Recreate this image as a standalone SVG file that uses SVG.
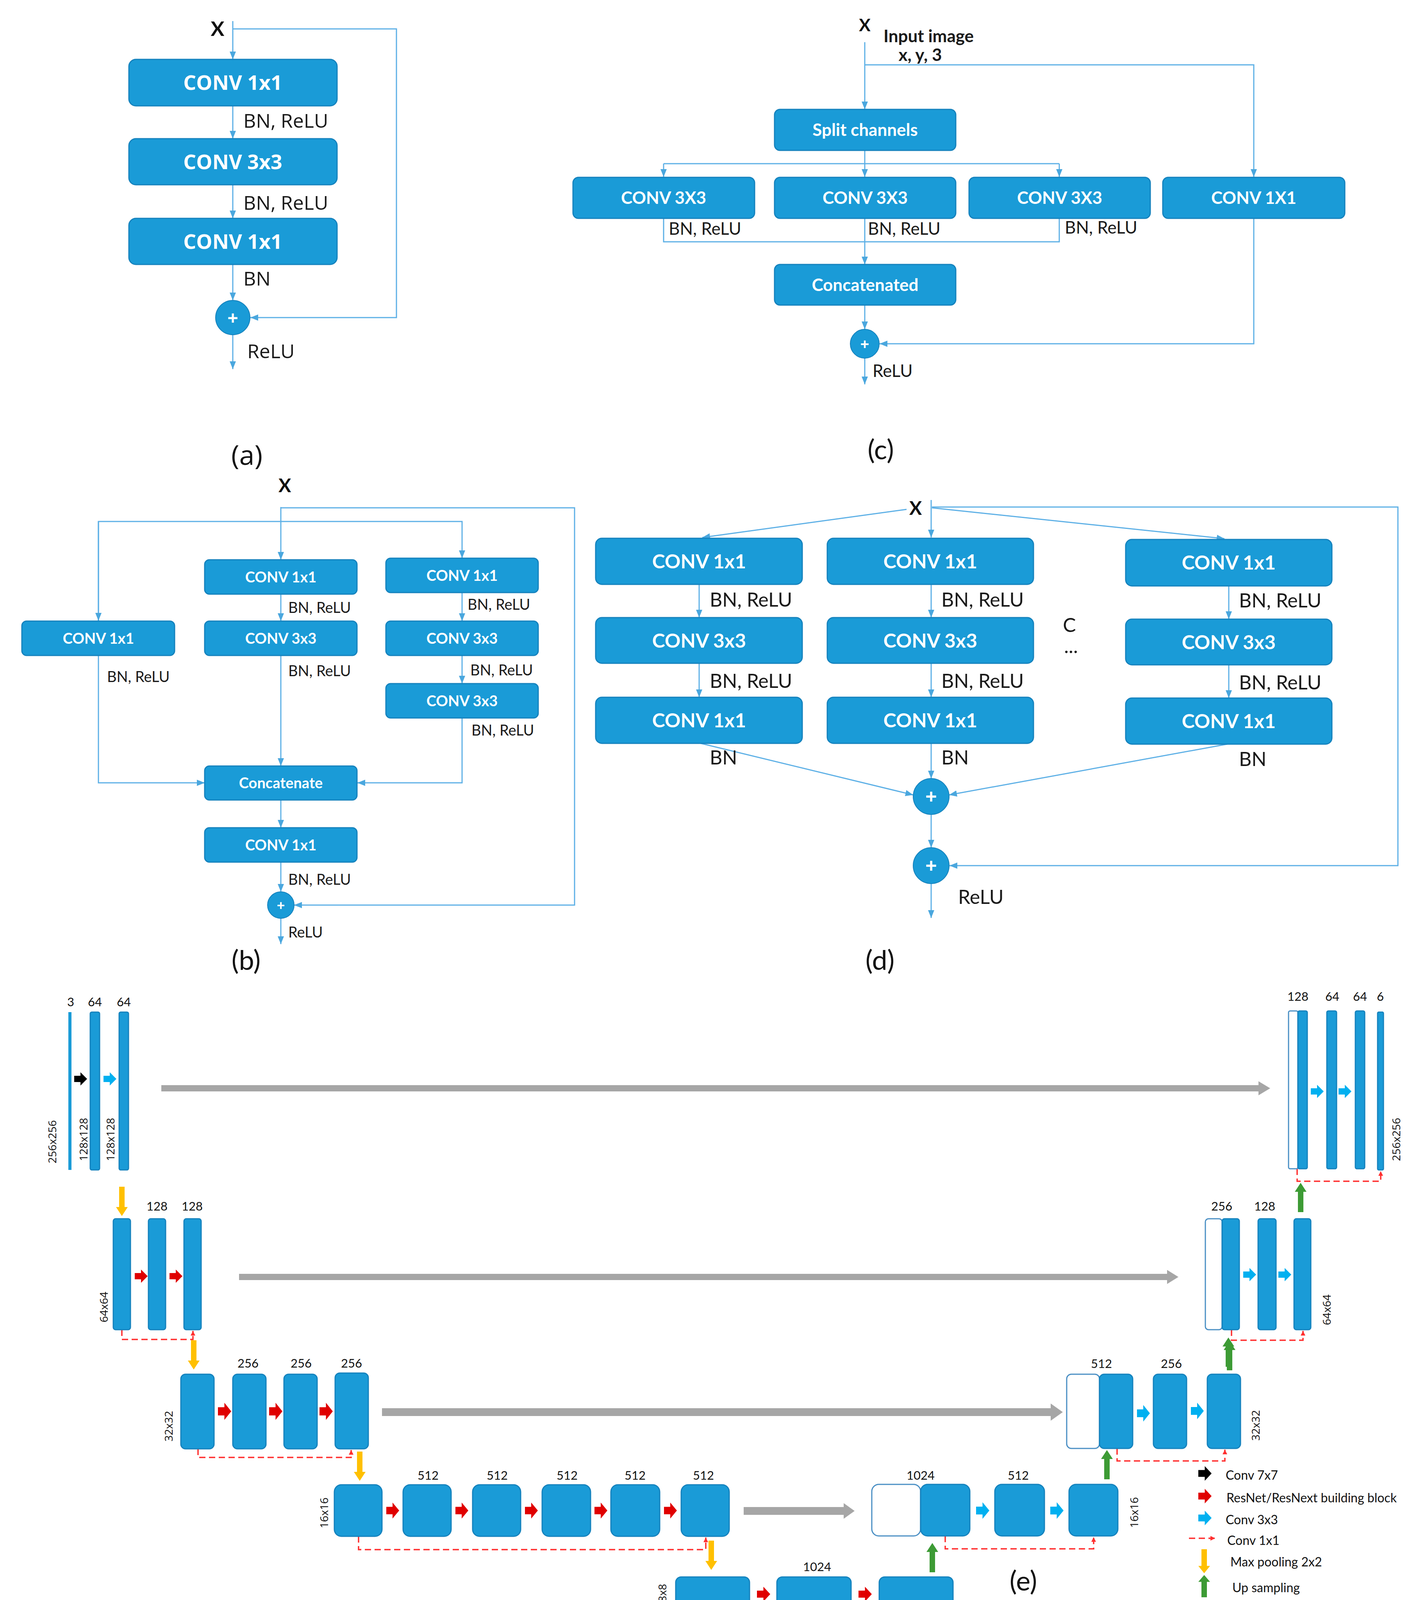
<svg xmlns="http://www.w3.org/2000/svg" xmlns:xlink="http://www.w3.org/1999/xlink" width="3633" height="4359" viewBox="0 0 3633 4359">
<style>
.bx{fill:#1a9bd7;stroke:#1582bd;stroke-width:3}
.wb{fill:#ffffff;stroke:#4a8fc4;stroke-width:3}
.cn{fill:none;stroke:#5db0e6;stroke-width:3}
.rd{fill:none;stroke:#ff2f2f;stroke-width:3.5;stroke-dasharray:16 9}
.ta{font-family:"Open Sans","DejaVu Sans",sans-serif;font-weight:700;font-size:52px;fill:#fff;text-anchor:middle}
.la{font-family:"Open Sans","DejaVu Sans",sans-serif;font-size:50px;fill:#1a1a1a}
.tb{font-family:Lato,"Liberation Sans",sans-serif;font-weight:700;font-size:38px;fill:#fff;text-anchor:middle}
.lb{font-family:Lato,"Liberation Sans",sans-serif;font-size:38px;fill:#1a1a1a}
.tc{font-family:Lato,"Liberation Sans",sans-serif;font-weight:700;font-size:44px;fill:#fff;text-anchor:middle}
.lc{font-family:Lato,"Liberation Sans",sans-serif;font-size:44px;fill:#1a1a1a}
.td{font-family:Lato,"Liberation Sans",sans-serif;font-weight:700;font-size:50px;fill:#fff;text-anchor:middle}
.ld{font-family:Lato,"Liberation Sans",sans-serif;font-size:50px;fill:#1a1a1a}
.xx{font-family:Lato,"Liberation Sans",sans-serif;font-weight:700;fill:#111;text-anchor:middle}
.pl{font-family:"Open Sans","DejaVu Sans",sans-serif;font-weight:700;fill:#fff;text-anchor:middle}
.cap{font-family:Lato,"Liberation Sans",sans-serif;font-size:70px;fill:#111;text-anchor:middle}
.ne{font-family:Lato,"Liberation Sans",sans-serif;font-size:31px;fill:#111;text-anchor:middle}
.re{font-family:"Open Sans","DejaVu Sans",sans-serif;font-size:28px;fill:#111;text-anchor:middle}
.lg{font-family:Lato,"Liberation Sans",sans-serif;font-size:32px;fill:#111}
</style>
<defs>
<marker id="ah" markerUnits="userSpaceOnUse" markerWidth="22" markerHeight="20" refX="20" refY="10" orient="auto"><path d="M0,2 L20,10 L0,18 z" fill="#4aa7de"/></marker>
<marker id="rh" markerUnits="userSpaceOnUse" markerWidth="14" markerHeight="14" refX="12" refY="7" orient="auto"><path d="M0,1 L12,7 L0,13 z" fill="#ff2f2f"/></marker>
<path id="ba" d="M0,-8 H16 V-17 L33,0 L16,17 V8 H0 Z"/>
<path id="yd" d="M-7,0 H7 V52 H15 L0,75 L-15,52 H-7 Z" fill="#ffc000"/>
<path id="gu" d="M-7,75 H7 V23 H15 L0,0 L-15,23 H-7 Z" fill="#3d9b35"/>
</defs>

<!-- ================= Panel (a) ================= -->
<g id="panel-a">
<g id="a-connectors">
<line class="cn" x1="596" y1="54" x2="596" y2="152" marker-end="url(#ah)"/>
<path class="cn" d="M596,74 H1015 V813 H641" marker-end="url(#ah)"/>
<line class="cn" x1="596" y1="271" x2="596" y2="355" marker-end="url(#ah)"/>
<line class="cn" x1="596" y1="473" x2="596" y2="559" marker-end="url(#ah)"/>
<line class="cn" x1="596" y1="677" x2="596" y2="769" marker-end="url(#ah)"/>
<line class="cn" x1="596" y1="857" x2="596" y2="945" marker-end="url(#ah)"/>
</g>
<text class="xx" x="557" y="92" font-size="52">X</text>
<g id="a-conv1"><rect class="bx" x="330" y="152" width="533" height="119" rx="18"/><text class="ta" x="596" y="230">CONV 1x1</text></g>
<g id="a-conv2"><rect class="bx" x="330" y="355" width="533" height="118" rx="18"/><text class="ta" x="596" y="433">CONV 3x3</text></g>
<g id="a-conv3"><rect class="bx" x="330" y="559" width="533" height="118" rx="18"/><text class="ta" x="596" y="637">CONV 1x1</text></g>
<g id="a-add"><circle cx="596" cy="813" r="44" fill="#1a9bd7" stroke="#1582bd" stroke-width="2"/><text class="pl" x="596" y="831" font-size="48">+</text></g>
<text class="la" x="623" y="327">BN, ReLU</text>
<text class="la" x="623" y="537">BN, ReLU</text>
<text class="la" x="623" y="731">BN</text>
<text class="la" x="633" y="917">ReLU</text>
<text class="cap" x="632" y="1190" style="font-family:'Open Sans',sans-serif" font-size="66">(a)</text>
</g>

<!-- ================= Panel (c) ================= -->
<g id="panel-c">
<g id="c-connectors">
<line class="cn" x1="2214" y1="108" x2="2214" y2="280" marker-end="url(#ah)"/>
<path class="cn" d="M2214,166 H3210 V453" marker-end="url(#ah)"/>
<line class="cn" x1="2214" y1="385" x2="2214" y2="453" marker-end="url(#ah)"/>
<path class="cn" d="M1699,419 H2712"/>
<line class="cn" x1="1699" y1="419" x2="1699" y2="453" marker-end="url(#ah)"/>
<line class="cn" x1="2712" y1="419" x2="2712" y2="453" marker-end="url(#ah)"/>
<path class="cn" d="M1699,559 V619 H2712 V559"/>
<line class="cn" x1="2214" y1="559" x2="2214" y2="677" marker-end="url(#ah)"/>
<line class="cn" x1="2214" y1="781" x2="2214" y2="843" marker-end="url(#ah)"/>
<path class="cn" d="M3210,559 V880 H2252" marker-end="url(#ah)"/>
<line class="cn" x1="2214" y1="917" x2="2214" y2="984" marker-end="url(#ah)"/>
</g>
<text class="xx" x="2214" y="80" font-size="44">X</text>
<text class="lc" x="2262" y="108" font-size="32" font-weight="700">Input image</text>
<text class="lc" x="2356" y="156" font-size="32" font-weight="700" text-anchor="middle">x, y, 3</text>
<g id="c-split"><rect class="bx" x="1983" y="280" width="464" height="105" rx="14"/><text class="tc" x="2215" y="348">Split channels</text></g>
<g id="c-conv3a"><rect class="bx" x="1467" y="454" width="465" height="105" rx="14"/><text class="tc" x="1699" y="522">CONV 3X3</text></g>
<g id="c-conv3b"><rect class="bx" x="1983" y="454" width="464" height="105" rx="14"/><text class="tc" x="2215" y="522">CONV 3X3</text></g>
<g id="c-conv3c"><rect class="bx" x="2481" y="454" width="464" height="105" rx="14"/><text class="tc" x="2713" y="522">CONV 3X3</text></g>
<g id="c-conv1"><rect class="bx" x="2977" y="454" width="466" height="105" rx="14"/><text class="tc" x="3210" y="522">CONV 1X1</text></g>
<g id="c-concat"><rect class="bx" x="1983" y="677" width="464" height="104" rx="14"/><text class="tc" x="2215" y="745">Concatenated</text></g>
<g id="c-add"><circle cx="2214" cy="880" r="37" fill="#1a9bd7" stroke="#1582bd" stroke-width="2"/><text class="pl" x="2214" y="895" font-size="40">+</text></g>
<text class="lc" x="1712" y="601">BN, ReLU</text>
<text class="lc" x="2222" y="601">BN, ReLU</text>
<text class="lc" x="2726" y="598">BN, ReLU</text>
<text class="lc" x="2234" y="965">ReLU</text>
<text class="cap" x="2255" y="1176">(c)</text>
</g>

<!-- ================= Panel (b) ================= -->
<g id="panel-b">
<g id="b-connectors">
<line class="cn" x1="719" y1="1298" x2="719" y2="1433" marker-end="url(#ah)"/>
<path class="cn" d="M719,1300 H1471 V2317 H753" marker-end="url(#ah)"/>
<path class="cn" d="M252,1589 V1335 H1183 V1429" marker-end="url(#ah)"/>
<line class="cn" x1="252" y1="1335" x2="252" y2="1589" marker-end="url(#ah)"/>
<line class="cn" x1="719" y1="1521" x2="719" y2="1590" marker-end="url(#ah)"/>
<line class="cn" x1="719" y1="1678" x2="719" y2="1961" marker-end="url(#ah)"/>
<line class="cn" x1="719" y1="2048" x2="719" y2="2119" marker-end="url(#ah)"/>
<line class="cn" x1="719" y1="2207" x2="719" y2="2283" marker-end="url(#ah)"/>
<line class="cn" x1="719" y1="2351" x2="719" y2="2417" marker-end="url(#ah)"/>
<line class="cn" x1="1183" y1="1517" x2="1183" y2="1590" marker-end="url(#ah)"/>
<line class="cn" x1="1183" y1="1678" x2="1183" y2="1750" marker-end="url(#ah)"/>
<path class="cn" d="M1183,1838 V2004 H915" marker-end="url(#ah)"/>
<path class="cn" d="M252,1678 V2004 H524" marker-end="url(#ah)"/>
</g>
<text class="xx" x="729" y="1260" font-size="48">X</text>
<g id="b-left-conv1"><rect class="bx" x="56" y="1590" width="391" height="88" rx="12"/><text class="tb" x="252" y="1648">CONV 1x1</text></g>
<g id="b-mid-conv1"><rect class="bx" x="524" y="1433" width="390" height="88" rx="12"/><text class="tb" x="719" y="1491">CONV 1x1</text></g>
<g id="b-mid-conv3"><rect class="bx" x="524" y="1590" width="390" height="88" rx="12"/><text class="tb" x="719" y="1648">CONV 3x3</text></g>
<g id="b-right-conv1"><rect class="bx" x="988" y="1429" width="390" height="88" rx="12"/><text class="tb" x="1183" y="1487">CONV 1x1</text></g>
<g id="b-right-conv3a"><rect class="bx" x="988" y="1590" width="390" height="88" rx="12"/><text class="tb" x="1183" y="1648">CONV 3x3</text></g>
<g id="b-right-conv3b"><rect class="bx" x="988" y="1750" width="390" height="88" rx="12"/><text class="tb" x="1183" y="1808">CONV 3x3</text></g>
<g id="b-concat"><rect class="bx" x="524" y="1961" width="390" height="87" rx="12"/><text class="tb" x="719" y="2018">Concatenate</text></g>
<g id="b-conv1-out"><rect class="bx" x="524" y="2119" width="390" height="88" rx="12"/><text class="tb" x="719" y="2177">CONV 1x1</text></g>
<g id="b-add"><circle cx="719" cy="2317" r="34" fill="#1a9bd7" stroke="#1582bd" stroke-width="2"/><text class="pl" x="719" y="2331" font-size="36">+</text></g>
<text class="lb" x="738" y="1569">BN, ReLU</text>
<text class="lb" x="738" y="1731">BN, ReLU</text>
<text class="lb" x="274" y="1746">BN, ReLU</text>
<text class="lb" x="1197" y="1561">BN, ReLU</text>
<text class="lb" x="1204" y="1729">BN, ReLU</text>
<text class="lb" x="1207" y="1883">BN, ReLU</text>
<text class="lb" x="738" y="2265">BN, ReLU</text>
<text class="lb" x="738" y="2400">ReLU</text>
<text class="cap" x="630" y="2483">(b)</text>
</g>

<!-- ================= Panel (d) ================= -->
<g id="panel-d">
<g id="d-connectors">
<line class="cn" x1="2384" y1="1280" x2="2384" y2="1376" marker-end="url(#ah)"/>
<line class="cn" x1="2321" y1="1304" x2="1798" y2="1376" marker-end="url(#ah)"/>
<line class="cn" x1="2386" y1="1300" x2="3135" y2="1379" marker-end="url(#ah)"/>
<path class="cn" d="M2386,1298 H3579 V2216 H2431" marker-end="url(#ah)"/>
<line class="cn" x1="1790" y1="1496" x2="1790" y2="1581" marker-end="url(#ah)"/>
<line class="cn" x1="1790" y1="1698" x2="1790" y2="1785" marker-end="url(#ah)"/>
<line class="cn" x1="2384" y1="1496" x2="2384" y2="1581" marker-end="url(#ah)"/>
<line class="cn" x1="2384" y1="1698" x2="2384" y2="1785" marker-end="url(#ah)"/>
<line class="cn" x1="3146" y1="1500" x2="3146" y2="1585" marker-end="url(#ah)"/>
<line class="cn" x1="3146" y1="1702" x2="3146" y2="1787" marker-end="url(#ah)"/>
<line class="cn" x1="1794" y1="1903" x2="2338" y2="2035" marker-end="url(#ah)"/>
<line class="cn" x1="2384" y1="1903" x2="2384" y2="1993" marker-end="url(#ah)"/>
<line class="cn" x1="3142" y1="1905" x2="2430" y2="2035" marker-end="url(#ah)"/>
<line class="cn" x1="2384" y1="2085" x2="2384" y2="2170" marker-end="url(#ah)"/>
<line class="cn" x1="2384" y1="2262" x2="2384" y2="2350" marker-end="url(#ah)"/>
</g>
<text class="xx" x="2344" y="1318" font-size="48">X</text>
<g id="d-l1"><rect class="bx" x="1525" y="1378" width="529" height="118" rx="16"/><text class="td" x="1790" y="1455">CONV 1x1</text></g>
<g id="d-l2"><rect class="bx" x="1525" y="1581" width="529" height="117" rx="16"/><text class="td" x="1790" y="1658">CONV 3x3</text></g>
<g id="d-l3"><rect class="bx" x="1525" y="1785" width="529" height="118" rx="16"/><text class="td" x="1790" y="1862">CONV 1x1</text></g>
<g id="d-m1"><rect class="bx" x="2118" y="1378" width="528" height="118" rx="16"/><text class="td" x="2382" y="1455">CONV 1x1</text></g>
<g id="d-m2"><rect class="bx" x="2118" y="1581" width="528" height="117" rx="16"/><text class="td" x="2382" y="1658">CONV 3x3</text></g>
<g id="d-m3"><rect class="bx" x="2118" y="1785" width="528" height="118" rx="16"/><text class="td" x="2382" y="1862">CONV 1x1</text></g>
<g id="d-r1"><rect class="bx" x="2882" y="1381" width="528" height="119" rx="16"/><text class="td" x="3146" y="1458">CONV 1x1</text></g>
<g id="d-r2"><rect class="bx" x="2882" y="1585" width="528" height="117" rx="16"/><text class="td" x="3146" y="1662">CONV 3x3</text></g>
<g id="d-r3"><rect class="bx" x="2882" y="1787" width="528" height="118" rx="16"/><text class="td" x="3146" y="1864">CONV 1x1</text></g>
<g id="d-add1"><circle cx="2384" cy="2039" r="46" fill="#1a9bd7" stroke="#1582bd" stroke-width="2"/><text class="pl" x="2384" y="2058" font-size="52">+</text></g>
<g id="d-add2"><circle cx="2384" cy="2216" r="46" fill="#1a9bd7" stroke="#1582bd" stroke-width="2"/><text class="pl" x="2384" y="2235" font-size="52">+</text></g>
<text class="ld" x="1817" y="1553">BN, ReLU</text>
<text class="ld" x="1817" y="1761">BN, ReLU</text>
<text class="ld" x="2410" y="1553">BN, ReLU</text>
<text class="ld" x="2410" y="1761">BN, ReLU</text>
<text class="ld" x="3172" y="1555">BN, ReLU</text>
<text class="ld" x="3172" y="1765">BN, ReLU</text>
<text class="ld" x="1817" y="1957">BN</text>
<text class="ld" x="2410" y="1957">BN</text>
<text class="ld" x="3172" y="1961">BN</text>
<text class="ld" x="2738" y="1618" text-anchor="middle">C</text>
<text class="ld" x="2742" y="1672" text-anchor="middle">...</text>
<text class="ld" x="2453" y="2314">ReLU</text>
<text class="cap" x="2253" y="2483">(d)</text>
</g>

<!-- ================= Panel (e) ================= -->
<g id="panel-e">
<g id="e-skip-arrows" fill="#a6a6a6">
<polygon points="413,2778 3222,2778 3222,2768 3252,2786 3222,2804 3222,2794 413,2794"/>
<polygon points="612,3261 2988,3261 2988,3251 3017,3269 2988,3287 2988,3277 612,3277"/>
<polygon points="978,3605 2690,3605 2690,3593 2721,3615 2690,3637 2690,3625 978,3625"/>
<polygon points="1904,3858 2160,3858 2160,3848 2188,3868 2160,3888 2160,3878 1904,3878"/>
</g>
<g id="e-residual-connectors">
<path class="rd" d="M312,3404 V3429 H494 V3407" marker-end="url(#rh)"/>
<path class="rd" d="M507,3709 V3731 H899 V3712" marker-end="url(#rh)"/>
<path class="rd" d="M918,3933 V3967 H1807 V3936" marker-end="url(#rh)"/>
<path class="rd" d="M1824,4123 V4168 H2347 V4126" marker-end="url(#rh)"/>
<path class="rd" d="M2420,3932 V3965 H2800 V3935" marker-end="url(#rh)"/>
<path class="rd" d="M2860,3708 V3740 H3136 V3711" marker-end="url(#rh)"/>
<path class="rd" d="M3153,3404 V3431 H3336 V3407" marker-end="url(#rh)"/>
<path class="rd" d="M3321,2992 V3024 H3535 V2998" marker-end="url(#rh)"/>
</g>
<g id="e-pool-up">
<use href="#yd" x="312" y="3038"/>
<use href="#yd" x="496" y="3431"/>
<use href="#yd" x="921" y="3716"/>
<use href="#yd" x="1821" y="3944"/>
<use href="#gu" x="2387" y="3950"/>
<use href="#gu" x="2834" y="3712"/>
<use href="#gu" x="3148" y="3433"/>
<use href="#gu" x="3145" y="3424"/>
<use href="#gu" x="3330" y="3028"/>
</g>
<!-- encoder level 1 -->
<g id="e-enc1">
<rect x="175" y="2591" width="8" height="404" fill="#1a9bd7"/>
<rect class="bx" x="231" y="2591" width="24" height="404" rx="4" stroke-width="1.5"/>
<rect class="bx" x="305" y="2591" width="24" height="404" rx="4" stroke-width="1.5"/>
<text class="ne" x="181" y="2576">3</text>
<text class="ne" x="243" y="2576">64</text>
<text class="ne" x="317" y="2576">64</text>
<use href="#ba" transform="translate(190,2762)" fill="#000"/>
<use href="#ba" transform="translate(265,2762)" fill="#00b0f0"/>
<text class="re" transform="translate(144,2923) rotate(-90)">256x256</text>
<text class="re" transform="translate(224,2917) rotate(-90)">128x128</text>
<text class="re" transform="translate(293,2917) rotate(-90)">128x128</text>
</g>
<!-- encoder level 2 -->
<g id="e-enc2">
<rect class="bx" x="290" y="3120" width="44" height="284" rx="6" stroke-width="1.5"/>
<rect class="bx" x="380" y="3120" width="44" height="284" rx="6" stroke-width="1.5"/>
<rect class="bx" x="471" y="3120" width="44" height="284" rx="6" stroke-width="1.5"/>
<text class="ne" x="402" y="3099">128</text>
<text class="ne" x="492" y="3099">128</text>
<use href="#ba" transform="translate(345,3267)" fill="#e00000"/>
<use href="#ba" transform="translate(434,3267)" fill="#e00000"/>
<text class="re" transform="translate(276,3346) rotate(-90)">64x64</text>
</g>
<!-- encoder level 3 -->
<g id="e-enc3">
<rect class="bx" x="463" y="3518" width="85" height="191" rx="12" stroke-width="1.5"/>
<rect class="bx" x="596" y="3518" width="85" height="191" rx="12" stroke-width="1.5"/>
<rect class="bx" x="727" y="3518" width="85" height="191" rx="12" stroke-width="1.5"/>
<rect class="bx" x="858" y="3515" width="85" height="194" rx="12" stroke-width="1.5"/>
<text class="ne" x="635" y="3501">256</text>
<text class="ne" x="771" y="3501">256</text>
<text class="ne" x="900" y="3501">256</text>
<use href="#ba" transform="translate(558,3613) scale(1.03,1.3)" fill="#e00000"/>
<use href="#ba" transform="translate(689,3613) scale(1.03,1.3)" fill="#e00000"/>
<use href="#ba" transform="translate(818,3613) scale(1.03,1.3)" fill="#e00000"/>
<text class="re" transform="translate(442,3651) rotate(-90)">32x32</text>
</g>
<!-- encoder level 4 -->
<g id="e-enc4">
<rect class="bx" x="856" y="3801" width="122" height="132" rx="18" stroke-width="1.5"/>
<rect class="bx" x="1032" y="3801" width="123" height="132" rx="18" stroke-width="1.5"/>
<rect class="bx" x="1210" y="3801" width="123" height="132" rx="18" stroke-width="1.5"/>
<rect class="bx" x="1388" y="3801" width="124" height="132" rx="18" stroke-width="1.5"/>
<rect class="bx" x="1564" y="3801" width="125" height="132" rx="18" stroke-width="1.5"/>
<rect class="bx" x="1744" y="3801" width="123" height="132" rx="18" stroke-width="1.5"/>
<text class="ne" x="1096" y="3788">512</text>
<text class="ne" x="1273" y="3788">512</text>
<text class="ne" x="1452" y="3788">512</text>
<text class="ne" x="1626" y="3788">512</text>
<text class="ne" x="1801" y="3788">512</text>
<use href="#ba" transform="translate(989,3867) scale(1,1.2)" fill="#e00000"/>
<use href="#ba" transform="translate(1166,3867) scale(1,1.2)" fill="#e00000"/>
<use href="#ba" transform="translate(1344,3867) scale(1,1.2)" fill="#e00000"/>
<use href="#ba" transform="translate(1522,3867) scale(1,1.2)" fill="#e00000"/>
<use href="#ba" transform="translate(1700,3867) scale(1,1.2)" fill="#e00000"/>
<text class="re" transform="translate(840,3873) rotate(-90)">16x16</text>
</g>
<!-- bottleneck -->
<g id="e-bottleneck">
<rect class="bx" x="1730" y="4037" width="189" height="86" rx="14" stroke-width="1.5"/>
<rect class="bx" x="1989" y="4037" width="190" height="86" rx="14" stroke-width="1.5"/>
<rect class="bx" x="2251" y="4037" width="189" height="86" rx="14" stroke-width="1.5"/>
<text class="ne" x="2092" y="4022">1024</text>
<use href="#ba" transform="translate(1938,4081) scale(1.03,1.12)" fill="#e00000"/>
<use href="#ba" transform="translate(2198,4081) scale(1.03,1.12)" fill="#e00000"/>
<text class="re" transform="translate(1706,4078) rotate(-90)">8x8</text>
</g>
<!-- decoder level 4 -->
<g id="e-dec4">
<rect class="wb" x="2232" y="3800" width="125" height="132" rx="18"/>
<rect class="bx" x="2357" y="3800" width="126" height="132" rx="18" stroke-width="1.5"/>
<rect class="bx" x="2547" y="3800" width="127" height="132" rx="18" stroke-width="1.5"/>
<rect class="bx" x="2737" y="3800" width="125" height="132" rx="18" stroke-width="1.5"/>
<text class="ne" x="2357" y="3788">1024</text>
<text class="ne" x="2607" y="3788">512</text>
<use href="#ba" transform="translate(2499,3867) scale(1.03,1.25)" fill="#00b0f0"/>
<use href="#ba" transform="translate(2689,3867) scale(1.03,1.25)" fill="#00b0f0"/>
<text class="re" transform="translate(2914,3872) rotate(-90)">16x16</text>
</g>
<!-- decoder level 3 -->
<g id="e-dec3">
<rect class="wb" x="2731" y="3518" width="84" height="190" rx="12"/>
<rect class="bx" x="2815" y="3518" width="85" height="190" rx="12" stroke-width="1.5"/>
<rect class="bx" x="2953" y="3518" width="85" height="190" rx="12" stroke-width="1.5"/>
<rect class="bx" x="3091" y="3518" width="85" height="190" rx="12" stroke-width="1.5"/>
<text class="ne" x="2820" y="3502">512</text>
<text class="ne" x="2999" y="3502">256</text>
<use href="#ba" transform="translate(2911,3618) scale(1,1.25)" fill="#00b0f0"/>
<use href="#ba" transform="translate(3049,3612) scale(1,1.25)" fill="#00b0f0"/>
<text class="re" transform="translate(3225,3649) rotate(-90)">32x32</text>
</g>
<!-- decoder level 2 -->
<g id="e-dec2">
<rect class="wb" x="3086" y="3120" width="43" height="284" rx="8"/>
<rect class="bx" x="3129" y="3120" width="44" height="284" rx="6" stroke-width="1.5"/>
<rect class="bx" x="3221" y="3120" width="46" height="284" rx="6" stroke-width="1.5"/>
<rect class="bx" x="3313" y="3120" width="43" height="284" rx="6" stroke-width="1.5"/>
<text class="ne" x="3128" y="3099">256</text>
<text class="ne" x="3238" y="3099">128</text>
<use href="#ba" transform="translate(3183,3263)" fill="#00b0f0"/>
<use href="#ba" transform="translate(3273,3263)" fill="#00b0f0"/>
<text class="re" transform="translate(3407,3353) rotate(-90)">64x64</text>
</g>
<!-- decoder level 1 -->
<g id="e-dec1">
<rect class="wb" x="3299" y="2588" width="24" height="404" rx="4" stroke-width="2"/>
<rect class="bx" x="3323" y="2588" width="24" height="404" rx="4" stroke-width="1.5"/>
<rect class="bx" x="3397" y="2588" width="25" height="404" rx="4" stroke-width="1.5"/>
<rect class="bx" x="3470" y="2588" width="24" height="404" rx="4" stroke-width="1.5"/>
<rect class="bx" x="3527" y="2591" width="15" height="404" rx="3" stroke-width="1.5"/>
<text class="ne" x="3323" y="2562">128</text>
<text class="ne" x="3411" y="2562">64</text>
<text class="ne" x="3482" y="2562">64</text>
<text class="ne" x="3534" y="2562">6</text>
<use href="#ba" transform="translate(3356,2794)" fill="#00b0f0"/>
<use href="#ba" transform="translate(3427,2794)" fill="#00b0f0"/>
<text class="re" transform="translate(3585,2917) rotate(-90)">256x256</text>
</g>
<!-- legend (kept compact so that it stays within the photographed area) -->
<g id="e-legend">
<use href="#ba" transform="translate(3068,3772) scale(1.03,1.1)" fill="#000"/>
<text class="lg" x="3138" y="3788">Conv 7x7</text>
<use href="#ba" transform="translate(3068,3830) scale(1.03,1.1)" fill="#e00000"/>
<text class="lg" x="3140" y="3846">ResNet/ResNext building block</text>
<use href="#ba" transform="translate(3068,3886) scale(1.03,1.1)" fill="#00b0f0"/>
<text class="lg" x="3138" y="3902">Conv 3x3</text>
<path class="rd" d="M3044,3938 H3111" marker-end="url(#rh)"/>
<text class="lg" x="3142" y="3955">Conv 1x1</text>
<use href="#yd" transform="translate(3083,3966) scale(1,0.82)"/>
<text class="lg" x="3150" y="4010">Max pooling 2x2</text>
<use href="#gu" transform="translate(3083,4032) scale(1,0.76)"/>
<text class="lg" x="3155" y="4076">Up sampling</text>
</g>
<text class="cap" x="2620" y="4072">(e)</text>
</g>
</svg>
